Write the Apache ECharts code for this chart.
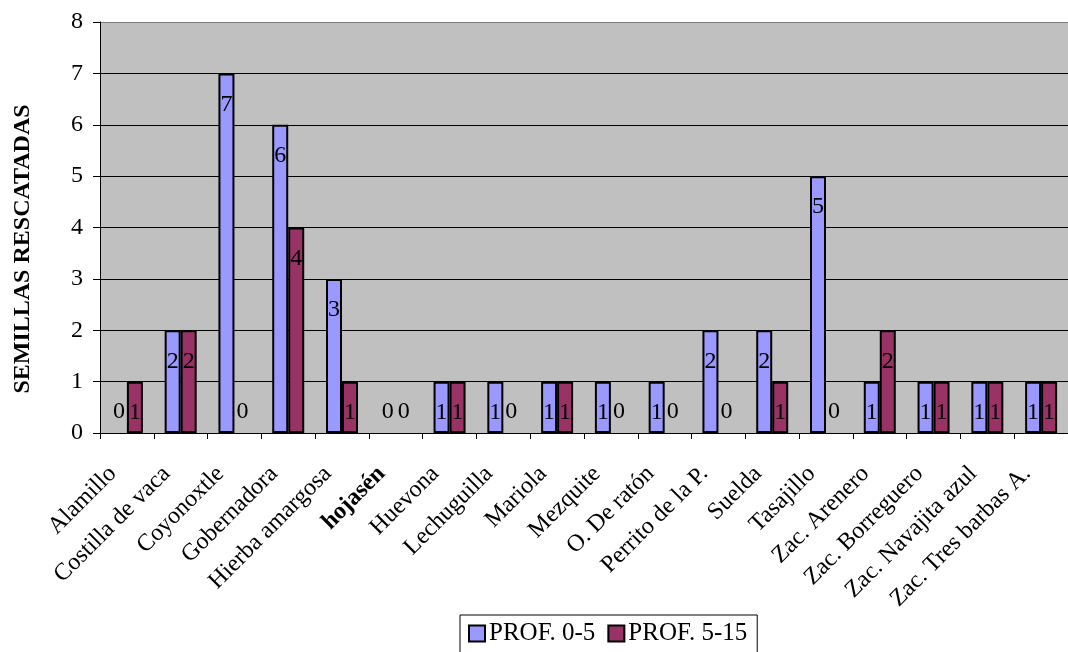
<!DOCTYPE html>
<html>
<head>
<meta charset="utf-8">
<script src="https://cdn.jsdelivr.net/npm/echarts@6/dist/echarts.min.js"></script>
<style>
  html, body { margin: 0; padding: 0; background: #fff; }
  #chart { width: 1068px; height: 652px; }
</style>
</head>
<body>
<div id="chart"></div>
<script>
// Seed counts recovered per species at two soil depths
const categories = [
  'Alamillo', 'Costilla de vaca', 'Coyonoxtle', 'Gobernadora', 'Hierba amargosa',
  'hojasén', 'Huevona', 'Lechuguilla', 'Mariola', 'Mezquite', 'O. De ratón',
  'Perrito de la P.', 'Suelda', 'Tasajillo', 'Zac. Arenero', 'Zac. Borreguero',
  'Zac. Navajita azul', 'Zac. Tres barbas A.'
];
const prof0_5  = [0, 2, 7, 6, 3, 0, 1, 1, 1, 1, 1, 2, 2, 5, 1, 1, 1, 1];
const prof5_15 = [1, 2, 0, 4, 1, 0, 1, 0, 1, 0, 0, 0, 1, 0, 2, 1, 1, 1];
const seriesNames = ['PROF. 0-5', 'PROF. 5-15'];
const yTicks = [0, 1, 2, 3, 4, 5, 6, 7, 8];

const SERIF = '"Liberation Serif", "Times New Roman", serif';

// Value labels sit inside the top of each bar; empty bars draw no outline
// and show their label just above the baseline
function toBarData(values) {
  return values.map(v => v === 0
    ? { value: v, itemStyle: { borderWidth: 0 }, label: { position: 'top', distance: 9 } }
    : { value: v });
}

const chart = echarts.init(document.getElementById('chart'));
chart.setOption({
  backgroundColor: '#ffffff',
  animation: false,
  grid: {
    left: 100, top: 22, right: -7, bottom: 219,
    show: true, backgroundColor: '#c0c0c0', borderWidth: 0
  },
  legend: {
    left: 460, top: 615,
    data: seriesNames,
    icon: 'rect',
    itemWidth: 16, itemHeight: 16, itemGap: 12,
    padding: [6, 10, 12, 8],
    borderColor: '#000', borderWidth: 1,
    backgroundColor: '#fff',
    textStyle: { fontFamily: SERIF, fontSize: 25, color: '#000', padding: [0, 0, 0, -1] }
  },
  xAxis: {
    type: 'category',
    data: categories.map(c => c === 'hojasén'
      ? { value: c, textStyle: { fontWeight: 'bold' } } : c),
    axisLine: { lineStyle: { color: '#000', width: 1 } },
    axisTick: { show: true, length: 6, lineStyle: { color: '#000' } },
    axisLabel: {
      interval: 0, rotate: 45, margin: 23,
      fontFamily: SERIF, fontSize: 24, color: '#000',
      formatter: v => '{a|' + v + '}',
      rich: { a: { fontFamily: SERIF, fontSize: 24, color: '#000', padding: [0, 20, 0, 0] } }
    }
  },
  yAxis: {
    type: 'value',
    min: yTicks[0], max: yTicks[yTicks.length - 1], interval: 1,
    axisLine: { show: true, lineStyle: { color: '#000', width: 1 } },
    axisTick: { show: true, length: 7, lineStyle: { color: '#000' } },
    axisLabel: { margin: 17, fontFamily: SERIF, fontSize: 24, color: '#000' },
    splitLine: {
      show: true,
      lineStyle: { color: ['#000', '#000', '#000', '#000', '#000', '#000', '#000', '#000', '#808080'], width: 1 }
    }
  },
  graphic: [{
    type: 'text',
    x: 23, y: 249,
    rotation: Math.PI / 2,
    style: {
      text: 'SEMILLAS RESCATADAS',
      font: 'bold 24px ' + SERIF,
      fill: '#000',
      align: 'center',
      verticalAlign: 'middle'
    }
  }],
  series: [
    {
      name: seriesNames[0], type: 'bar',
      data: toBarData(prof0_5),
      barWidth: 16, barGap: '0%',
      itemStyle: { color: '#9999ff', borderColor: '#000', borderWidth: 2 },
      label: {
        show: true, position: 'insideTop', distance: 19,
        fontFamily: SERIF, fontSize: 24, color: '#000'
      }
    },
    {
      name: seriesNames[1], type: 'bar',
      data: toBarData(prof5_15),
      barWidth: 16,
      itemStyle: { color: '#993366', borderColor: '#000', borderWidth: 2 },
      label: {
        show: true, position: 'insideTop', distance: 19,
        fontFamily: SERIF, fontSize: 24, color: '#000'
      }
    }
  ]
});
</script>
</body>
</html>
